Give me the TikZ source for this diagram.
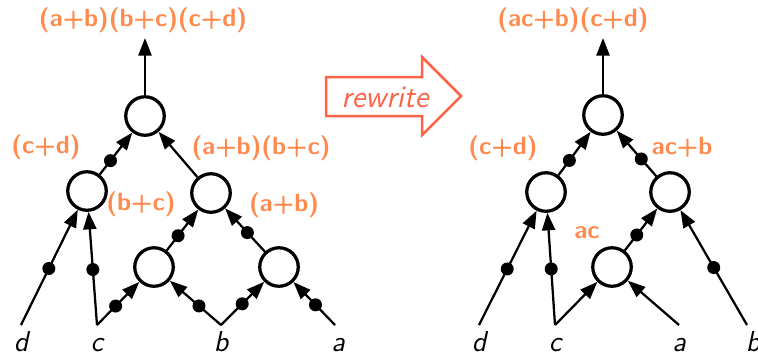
\documentclass[tikz,border=0pt]{standalone}
\usepackage{fontspec}
\usepackage{tikz}
\usetikzlibrary{arrows.meta,positioning}

\definecolor{exprorange}{HTML}{FF8A4D}
\definecolor{rewritered}{HTML}{FF6347}

\tikzset{
  gate/.style={circle, draw, line width=1.3pt, minimum size=15.4pt, inner sep=0pt},
  wire/.style={line width=0.9pt, -{Triangle[length=7pt,width=5.2pt]}},
  bubble/.style={circle, fill=black, minimum size=5.2pt, inner sep=0pt},
  expr/.style={text=exprorange, font=\fontsize{10}{12}\sffamily\bfseries},
  leaf/.style={font=\fontsize{11.5}{13}\sffamily\itshape, text height=8pt, text depth=0pt, inner sep=1pt}
}

\begin{document}
\begin{tikzpicture}[x=0.4pt, y=-0.4pt]
  \useasboundingbox (0,0) rectangle (758,355);

  % Left circuit: gates
  \node[gate] (Ltop)  at (145,116) {};
  \node[gate] (Lcd)   at (87,191) {};
  \node[gate] (Lbcab) at (211,193) {};
  \node[gate] (Lbc)   at (154,267) {};
  \node[gate] (Lab)   at (279,267) {};

  % Left circuit: inputs and output
  \coordinate (Ld) at (21,325);
  \coordinate (Lc) at (97,325);
  \coordinate (Lb) at (221,325);
  \coordinate (La) at (335,325);
  \coordinate (Lout) at (145,38);

  % Right circuit: gates
  \node[gate] (Rtop) at (603,115) {};
  \node[gate] (Rcd)  at (546,192) {};
  \node[gate] (Racb) at (670,192) {};
  \node[gate] (Rac)  at (612,267) {};

  % Right circuit: inputs and output
  \coordinate (Rd) at (479,325);
  \coordinate (Rc) at (555,325);
  \coordinate (Ra) at (679,325);
  \coordinate (Rb) at (747,325);
  \coordinate (Rout) at (603,38);

  % Negated wires
  \foreach \src/\dst/\p in {Ld/Lcd/.49, Lc/Lcd/.49, Lcd/Ltop/.33, Lc/Lbc/.44, Lb/Lbc/.43,
      Lb/Lab/.49, La/Lab/.47, Lbc/Lbcab/.36, Lab/Lbcab/.44,
      Rd/Rcd/.49, Rc/Rcd/.5, Rcd/Rtop/.34, Racb/Rtop/.38, Rac/Racb/.37, Rb/Racb/.5} {
    \draw[wire] (\src) -- node[bubble, pos=\p] {} (\dst);
  }

  % Plain wires
  \foreach \src/\dst in {Lbcab/Ltop, Ltop/Lout, Rc/Rac, Ra/Rac, Rtop/Rout} {
    \draw[wire] (\src) -- (\dst);
  }

  % Input names
  \foreach \v/\t/\dx in {Ld/d/0, Lc/c/0, Lb/b/0, La/a/3, Rd/d/0, Rc/c/0, Ra/a/0, Rb/b/6} {
    \node[leaf, below=1.4pt of \v, xshift=\dx*0.4pt] (n\v) {\t};
  }

  % Expressions
  \node[expr] (eLout)  at (143,20)  {(a+b)(b+c)(c+d)};
  \node[expr] (eLcd)   at (46,147)  {(c+d)};
  \node[expr] (eLbcab) at (261,148) {(a+b)(b+c)};
  \node[expr] (eLbc)   at (141,204) {(b+c)};
  \node[expr] (eLab)   at (284,205) {(a+b)};
  \node[expr] (eRout)  at (573,20)  {(ac+b)(c+d)};
  \node[expr] (eRcd)   at (503,148) {(c+d)};
  \node[expr] (eRacb)  at (682,147) {ac+b};
  \node[expr] (eRac)   at (587,233) {ac};

  % Rewrite arrow
  \node[text=rewritered, font=\fontsize{12.5}{14}\sffamily\itshape, inner sep=0pt] (rw) at (385,97) {rewrite};
  \draw[rewritered, line width=1pt, line join=miter]
    (326,77) -- (422,77) -- (422,57) -- (461,96) -- (422,135) -- (422,116) -- (326,116) -- cycle;
\end{tikzpicture}
\end{document}
